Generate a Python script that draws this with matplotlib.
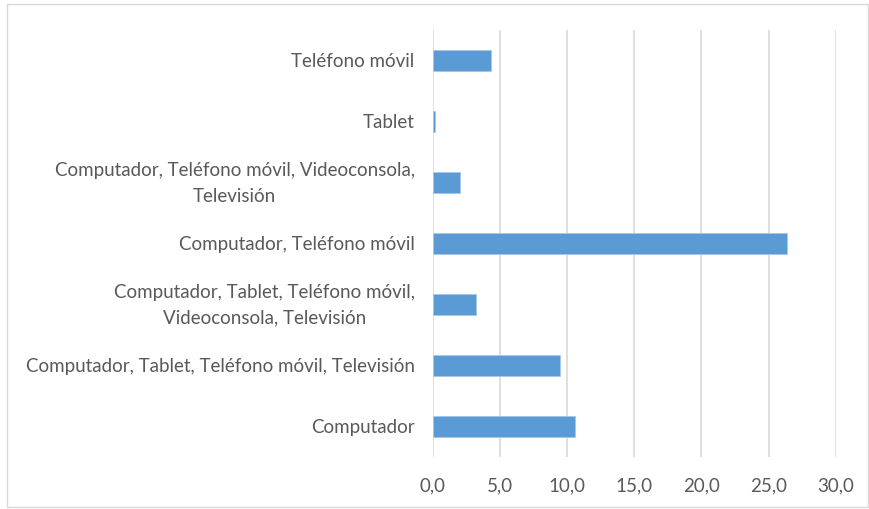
import matplotlib
matplotlib.use("Agg")
import matplotlib.pyplot as plt
from matplotlib.patches import Rectangle

categories = [
    "Computador",
    "Computador, Tablet, Teléfono móvil, Televisión",
    "Computador, Tablet, Teléfono móvil,\nVideoconsola, Televisión",
    "Computador, Teléfono móvil",
    "Computador, Teléfono móvil, Videoconsola,\nTelevisión",
    "Tablet",
    "Teléfono móvil",
]
values = [10.6, 9.48, 3.2, 26.4, 2.05, 0.2, 4.34]
xticks = [0, 5, 10, 15, 20, 25, 30]
xtick_labels = ["0,0", "5,0", "10,0", "15,0", "20,0", "25,0", "30,0"]

plt.rcParams['font.family'] = ['Lato', 'DejaVu Sans']

fig = plt.figure(figsize=(8.69, 5.10), dpi=100)
ax = fig.add_axes([432.7/869, 1-458/510, (835.7-432.7)/869, (458-31)/510])

ypos = list(range(len(categories)))
ax.barh(ypos, values, height=0.36, color="#5b9bd5", edgecolor="#a9c8ea", linewidth=0.6, zorder=3)
ax.set_ylim(-0.5, len(categories)-0.5)
ax.set_xlim(0, 30)
ax.set_xticks(xticks)
ax.set_xticklabels(xtick_labels)
ax.set_yticks(ypos)
ax.set_yticklabels(categories, multialignment='center', linespacing=1.6, va='center')
ax.tick_params(axis='both', length=0, colors="#595959", labelsize=13.5)
ax.tick_params(axis='x', pad=14)
ax.tick_params(axis='y', pad=13)
ax.grid(axis='x', color="#d9d9d9", linewidth=1.2, zorder=0)
for s in ax.spines.values():
    s.set_visible(False)

fig.patches.append(Rectangle((7/869, 2/510), 861/869, 503/510, transform=fig.transFigure,
                             fill=False, edgecolor="#d9d9d9", linewidth=1.0))

fig.savefig("out.png", dpi=100)
